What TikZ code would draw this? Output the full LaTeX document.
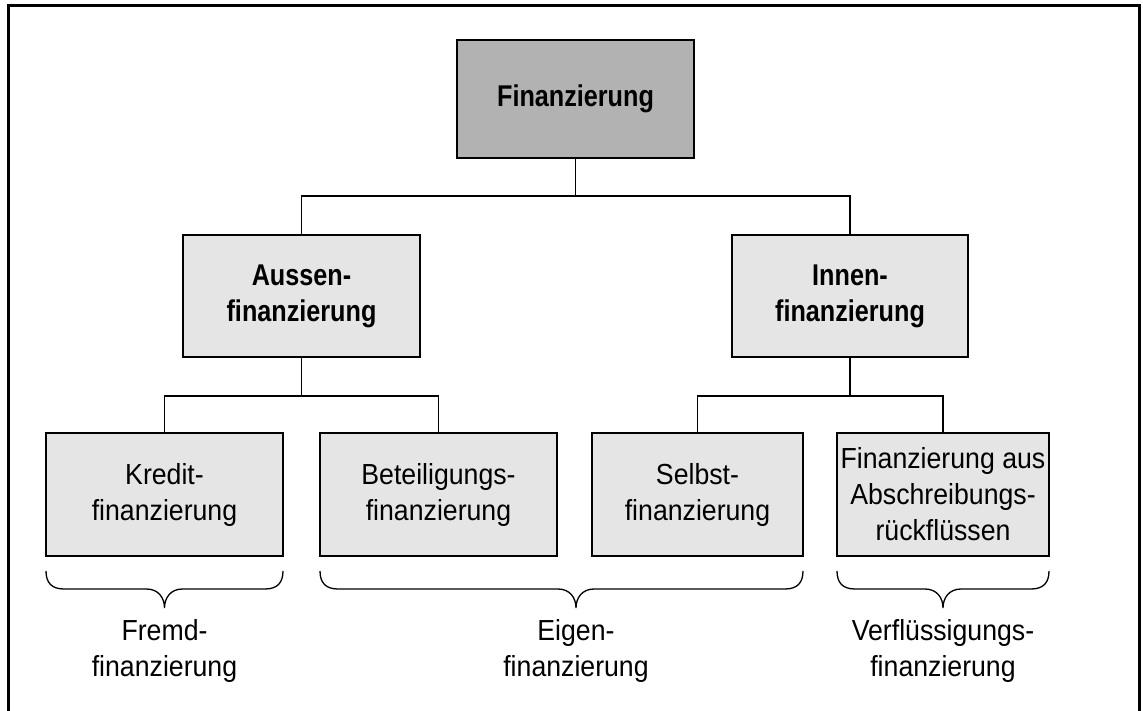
\documentclass[tikz,border=0pt]{standalone}
\usepackage{fontspec}
\setmainfont{Liberation Sans}[FakeStretch=0.92, BoldFeatures={FakeStretch=0.84}]
\usetikzlibrary{calc}

\definecolor{headgray}{gray}{0.70}
\definecolor{boxgray}{gray}{0.90}

% curly brace below a group of boxes: left end, right end, tip position
\newcommand\curlybrace[3]{%
  \draw[curly] (#1,571) .. controls (#1,583) and (#1+6,589) .. (#1+18,589)
    -- (#3-18,589) .. controls (#3-6,589) and (#3,598) .. (#3,608)
    .. controls (#3,598) and (#3+6,589) .. (#3+18,589)
    -- (#2-18,589) .. controls (#2-6,589) and (#2,583) .. (#2,571);}

\begin{document}
\begin{tikzpicture}[x=1pt,y=-1pt,
  box/.style={draw, line width=1.8pt, inner sep=0pt, align=center,
    font=\fontsize{29}{36}\selectfont},
  head/.style={box, font=\fontsize{30}{36}\selectfont\bfseries},
  lead/.style={line width=1.8pt},
  curly/.style={line width=1.3pt},
  grouplabel/.style={align=center, inner sep=0pt,
    font=\fontsize{29}{36}\selectfont}]

\useasboundingbox (0,0) rectangle (1143,711);

% outer frame (open at the bottom)
\draw[line width=3pt] (8,720) -- (8,6) -- (1139,6) -- (1139,720);

% boxes
\node[head, fill=headgray, minimum width=237pt, minimum height=118pt]
  (fin) at (575.5,99) {Finanzierung};
\node[head, fill=boxgray, minimum width=237pt, minimum height=122pt]
  (aussen) at (301.5,296) {Aussen-\\finanzierung};
\node[head, fill=boxgray, minimum width=236pt, minimum height=122pt]
  (innen) at (850,296) {Innen-\\finanzierung};

\node[box, fill=boxgray, minimum width=237pt, minimum height=123pt]
  (kredit) at (164.5,494.5) {Kredit-\\finanzierung};
\node[box, fill=boxgray, minimum width=237pt, minimum height=123pt]
  (beteil) at (438.5,494.5) {Beteiligungs-\\finanzierung};
\node[box, fill=boxgray, minimum width=211pt, minimum height=123pt]
  (selbst) at (697.5,494.5) {Selbst-\\finanzierung};
\node[box, fill=boxgray, minimum width=212pt, minimum height=123pt]
  (abschr) at (943,494.5) {Finanzierung aus\\Abschreibungs-\\rückflüssen};

% connectors
\coordinate (j1) at (575.5,196);
\draw[lead] (fin.south) -- (j1);
\draw[lead] (aussen.north) |- (j1) -| (innen.north);

\coordinate (j2) at (301.5,396);
\draw[lead] (aussen.south) -- (j2);
\draw[lead] (kredit.north) |- (j2) -| (beteil.north);

\coordinate (j3) at (850,396);
\draw[lead] (innen.south) -- (j3);
\draw[lead] (selbst.north) |- (j3) -| (abschr.north);

% braces and group labels
\curlybrace{46}{283}{164.5}
\curlybrace{320}{803}{576}
\curlybrace{837}{1049}{943}

\node[grouplabel] (fremd) at (164.5,651) {Fremd-\\finanzierung};
\node[grouplabel] (eigen) at (576,651) {Eigen-\\finanzierung};
\node[grouplabel] (verfl) at (943,651) {Verflüssigungs-\\finanzierung};

\end{tikzpicture}
\end{document}
